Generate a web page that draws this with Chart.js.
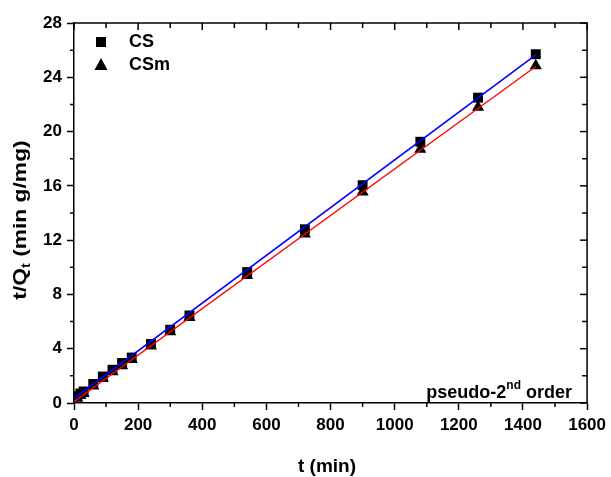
<!DOCTYPE html>
<html>
<head>
<meta charset="utf-8">
<script src="https://cdn.jsdelivr.net/npm/chart.js@4.4.0/dist/chart.umd.min.js"></script>
<style>
    html, body { margin: 0; padding: 0; background: #fff; }
    #wrap { width: 611px; height: 477px; }
</style>
</head>
<body>
<div id="wrap"><canvas id="chart" width="611" height="477"></canvas></div>
<script>
// pseudo-2nd order kinetics, t/Qt vs t

const times = [10, 20, 30, 60, 90, 120, 150, 180, 240, 300, 360, 540, 720, 900, 1080, 1260, 1440];
const csValues = [0.5, 0.7, 0.85, 1.4, 1.95, 2.45, 2.95, 3.35, 4.35, 5.4, 6.45, 9.65, 12.8, 16.05, 19.25, 22.5, 25.7];
const csmValues = [0.35, 0.55, 0.7, 1.25, 1.8, 2.3, 2.75, 3.2, 4.2, 5.25, 6.3, 9.4, 12.45, 15.55, 18.7, 21.8, 24.85];

const fitTimes = [0, 1440];
const csFit = [0.33, 25.65];
const csmFit = [0.1, 24.8];

const xTicks = [0, 200, 400, 600, 800, 1000, 1200, 1400, 1600];
const yTicks = [0, 4, 8, 12, 16, 20, 24, 28];

const FONT = '"Liberation Sans", Arial, sans-serif';

function toPoints(xs, ys) {
    return xs.map((x, i) => ({ x: x, y: ys[i] }));
}

// frame, minor ticks, titles, legend and note
const decorPlugin = {
    id: 'decor',
    afterDraw(chart) {
        const ctx = chart.ctx;
        const xs = chart.scales.x;
        const ys = chart.scales.y;
        const area = chart.chartArea;
        ctx.save();
        ctx.strokeStyle = '#000';
        ctx.lineWidth = 1.5;

        // top and right axis lines
        ctx.beginPath();
        ctx.moveTo(area.left, area.top);
        ctx.lineTo(area.right, area.top);
        ctx.lineTo(area.right, area.bottom);
        ctx.stroke();

        // x ticks: minor below, top ticks inward
        for (let v = 0; v <= 1600; v += 100) {
            const px = xs.getPixelForValue(v);
            const major = v % 200 === 0;
            ctx.beginPath();
            if (!major) {
                ctx.moveTo(px, area.bottom);
                ctx.lineTo(px, area.bottom + 4);
            }
            ctx.moveTo(px, area.top);
            ctx.lineTo(px, area.top + (major ? 7 : 5));
            ctx.stroke();
        }
        // y ticks: minor left, right ticks inward
        for (let v = 0; v <= 28; v += 2) {
            const py = ys.getPixelForValue(v);
            const major = v % 4 === 0;
            ctx.beginPath();
            if (!major) {
                ctx.moveTo(area.left, py);
                ctx.lineTo(area.left - 4, py);
            }
            ctx.moveTo(area.right, py);
            ctx.lineTo(area.right - (major ? 7 : 5), py);
            ctx.stroke();
        }

        ctx.fillStyle = '#000';

        // x title
        ctx.font = 'bold 19px ' + FONT;
        ctx.textAlign = 'center';
        ctx.textBaseline = 'middle';
        ctx.fillText('t (min)', 327, 467);

        // y title with subscript, stretched along its length like the source
        ctx.save();
        ctx.translate(20, 220);
        ctx.rotate(-Math.PI / 2);
        ctx.scale(1.2, 1);
        const big = 'bold 19px ' + FONT;
        const small = 'bold 12px ' + FONT;
        ctx.font = big;
        const w1 = ctx.measureText('t/Q').width;
        const w3 = ctx.measureText(' (min g/mg)').width;
        ctx.font = small;
        const w2 = ctx.measureText('t').width;
        let sx = -(w1 + w2 + w3) / 2;
        ctx.textAlign = 'left';
        ctx.textBaseline = 'alphabetic';
        ctx.font = big;
        ctx.fillText('t/Q', sx, 6);
        ctx.font = small;
        ctx.fillText('t', sx + w1, 10);
        ctx.font = big;
        ctx.fillText(' (min g/mg)', sx + w1 + w2, 6);
        ctx.restore();

        // legend
        ctx.fillRect(96, 37, 10, 10);
        ctx.beginPath();
        ctx.moveTo(101, 58);
        ctx.lineTo(107.5, 70);
        ctx.lineTo(94.5, 70);
        ctx.closePath();
        ctx.fill();
        ctx.font = 'bold 18px ' + FONT;
        ctx.textAlign = 'left';
        ctx.textBaseline = 'middle';
        ctx.fillText('CS', 129, 42);
        ctx.fillText('CSm', 129, 65);

        // note in lower right
        const noteBig = 'bold 18px ' + FONT;
        const noteSmall = 'bold 12px ' + FONT;
        ctx.textBaseline = 'alphabetic';
        ctx.font = noteBig;
        const n1 = ctx.measureText('pseudo-2').width;
        const n3 = ctx.measureText(' order').width;
        ctx.font = noteSmall;
        const n2 = ctx.measureText('nd').width;
        let nx = 572 - (n1 + n2 + n3);
        ctx.font = noteBig;
        ctx.fillText('pseudo-2', nx, 398);
        ctx.font = noteSmall;
        ctx.fillText('nd', nx + n1, 389);
        ctx.font = noteBig;
        ctx.fillText(' order', nx + n1 + n2, 398);

        ctx.restore();
    }
};

new Chart(document.getElementById('chart'), {
    type: 'scatter',
    data: {
        datasets: [
            {
                label: 'CS fit',
                type: 'line',
                data: toPoints(fitTimes, csFit),
                borderColor: '#0000ff',
                borderWidth: 1.6,
                pointRadius: 0,
                fill: false,
                order: 0
            },
            {
                label: 'CSm fit',
                type: 'line',
                data: toPoints(fitTimes, csmFit),
                borderColor: '#ff0000',
                borderWidth: 1.3,
                pointRadius: 0,
                fill: false,
                order: 0
            },
            {
                label: 'CSm',
                data: toPoints(times, csmValues),
                pointStyle: 'triangle',
                pointRadius: 7,
                pointBorderWidth: 0,
                backgroundColor: '#000',
                borderColor: '#000',
                order: 1
            },
            {
                label: 'CS',
                data: toPoints(times, csValues),
                pointStyle: 'rect',
                pointRadius: 7,
                pointBorderWidth: 0,
                backgroundColor: '#000',
                borderColor: '#000',
                order: 2
            }
        ]
    },
    options: {
        responsive: false,
        animation: false,
        devicePixelRatio: 1,
        layout: { padding: { top: 23, right: 23, left: 0, bottom: 0 } },
        plugins: {
            legend: { display: false },
            tooltip: { enabled: false }
        },
        scales: {
            x: {
                type: 'linear',
                min: 0,
                max: 1600,
                afterBuildTicks: (scale) => { scale.ticks = xTicks.map(v => ({ value: v })); },
                afterFit: (scale) => { scale.height = 74; },
                ticks: {
                    color: '#000',
                    padding: 5,
                    maxRotation: 0,
                    callback: (v) => String(v),
                    font: { family: FONT, size: 17, weight: 'bold' }
                },
                grid: {
                    drawOnChartArea: false,
                    tickLength: 7,
                    tickColor: '#000',
                    tickWidth: 1.5
                },
                border: { color: '#000', width: 1.5 }
            },
            y: {
                type: 'linear',
                min: 0,
                max: 28,
                afterBuildTicks: (scale) => { scale.ticks = yTicks.map(v => ({ value: v })); },
                afterFit: (scale) => { scale.width = 74; },
                ticks: {
                    color: '#000',
                    padding: 5,
                    callback: (v) => String(v),
                    font: { family: FONT, size: 17, weight: 'bold' }
                },
                grid: {
                    drawOnChartArea: false,
                    tickLength: 7,
                    tickColor: '#000',
                    tickWidth: 1.5
                },
                border: { color: '#000', width: 1.5 }
            }
        }
    },
    plugins: [decorPlugin]
});
</script>
</body>
</html>
